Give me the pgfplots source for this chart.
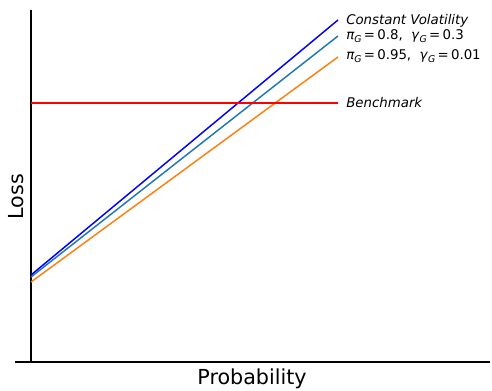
\documentclass[border=0pt]{standalone}
\usepackage{fontspec}
\setmainfont{DejaVu Sans}
\usepackage{pgfplots}
\pgfplotsset{compat=1.18}
\definecolor{mplblue}{RGB}{31,119,180}
\definecolor{mplorange}{RGB}{255,127,14}
\newcommand{\sub}[1]{\raisebox{-0.35ex}{\fontsize{7}{8}\selectfont\itshape #1}}
\begin{document}
\begin{tikzpicture}[x=0.75pt,y=0.75pt]
\begin{axis}[
  at={(0,0)}, anchor=south west,
  scale only axis, width=356.25pt, height=264pt,
  xmin=-16, xmax=459, ymin=0, ymax=352,
  axis x line=bottom, axis y line=middle,
  axis line style={-, black, line width=0.8pt},
  xtick=\empty, ytick=\empty,
  xlabel={Probability}, ylabel={Loss},
  label style={font=\fontsize{15.5}{18}\selectfont},
  xlabel style={at={(axis description cs:0.499,-0.048)}, anchor=center},
  ylabel style={at={(axis description cs:0.002,0.47)}, anchor=center, rotate=90},
  clip=false,
]
\addplot[mplblue, line width=1.1pt] coordinates {(0,85) (307,326)};
\addplot[mplorange, line width=1.1pt] coordinates {(0,80) (307,305)};
\addplot[blue, line width=1.1pt] coordinates {(0,87) (307,342)};
\addplot[red, line width=1.1pt] coordinates {(0,259) (307,259)};
\node[anchor=west, inner sep=0pt, font=\fontsize{10}{12}\selectfont\itshape] at (axis cs:315,341) {Constant Volatility};
\node[anchor=west, inner sep=0pt, font=\fontsize{10}{12}\selectfont] at (axis cs:315,326) {\textit{π}\sub{G}\,=\,0.8,\ \ \textit{γ}\sub{G}\,=\,0.3};
\node[anchor=west, inner sep=0pt, font=\fontsize{10}{12}\selectfont] at (axis cs:315,306) {\textit{π}\sub{G}\,=\,0.95,\ \ \textit{γ}\sub{G}\,=\,0.01};
\node[anchor=west, inner sep=0pt, font=\fontsize{10}{12}\selectfont\itshape] at (axis cs:315,259) {Benchmark};
\end{axis}
\pgfresetboundingbox
\path[use as bounding box] (-15,-28) rectangle (477,362);
\end{tikzpicture}
\end{document}
